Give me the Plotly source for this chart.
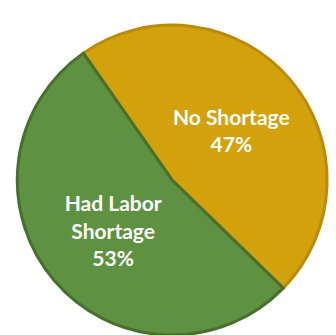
import plotly.graph_objects as go

labels = ["No Shortage", "Had Labor<br>Shortage"]
values = [47, 53]
colors = ["#D2A10B", "#5E9140"]
edge_colors = ["#B88C0A", "#46702C"]

fig = go.Figure(go.Pie(
    labels=labels,
    values=values,
    sort=False,
    direction="clockwise",
    rotation=-35,
    marker=dict(colors=colors, line=dict(color=edge_colors, width=3)),
    texttemplate="<b>%{label}<br>%{percent:.0%}</b>",
    textposition="inside",
    insidetextorientation="horizontal",
    textfont=dict(family="Lato", size=21, color="white"),
    domain=dict(x=[0.04, 0.985], y=[0.0, 0.925]),
    showlegend=False,
    hoverinfo="skip",
))

fig.update_layout(
    width=336, height=335,
    margin=dict(l=0, r=0, t=0, b=0),
    paper_bgcolor="white",
    plot_bgcolor="white",
)

fig.write_html("out.html")
